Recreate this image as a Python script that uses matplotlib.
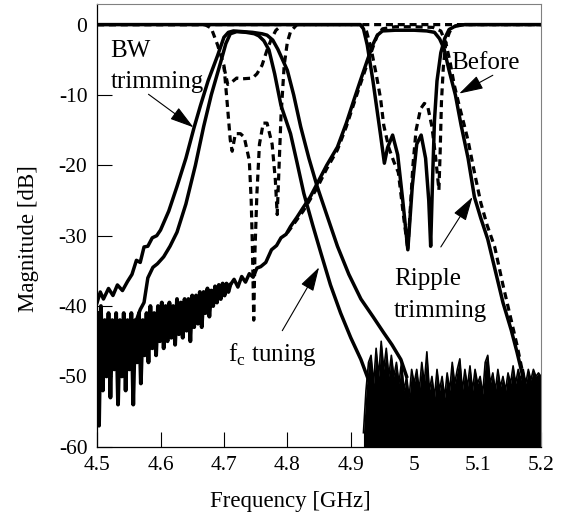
import numpy as np
import matplotlib
matplotlib.use('Agg')
import matplotlib.pyplot as plt

# --- S21 of the low band filter, two states (wide / narrow after BW trimming)
freq_wide = [4.500, 4.505, 4.510, 4.518, 4.525, 4.532, 4.540, 4.548, 4.555, 4.562, 4.568,
             4.574, 4.580, 4.587, 4.594, 4.600, 4.613, 4.626, 4.640, 4.653, 4.663, 4.675,
             4.690, 4.700, 4.707, 4.715, 4.730, 4.745, 4.760, 4.768, 4.777, 4.785, 4.790,
             4.800, 4.810, 4.821, 4.834, 4.847, 4.862, 4.879, 4.897, 4.916, 4.935, 4.952,
             4.965, 4.979, 4.988]
mag_wide = [-39.5, -38.0, -39.0, -37.5, -38.5, -37.0, -37.8, -36.5, -35.5, -33.5, -33.8,
            -31.6, -31.5, -30.3, -30.0, -29.2, -26.5, -23.0, -19.0, -14.6, -11.5, -8.0,
            -4.4, -1.8, -1.1, -0.9, -1.0, -1.1, -1.3, -1.5, -2.2, -3.5, -4.5,
            -6.5, -10.0, -14.5, -19.0, -23.0, -27.0, -31.5, -35.5, -39.0, -41.5, -43.8,
            -45.5, -47.6, -50.0]

freq_narrow = [4.556, 4.562, 4.568, 4.574, 4.580, 4.588, 4.595, 4.605, 4.615, 4.626, 4.640,
               4.655, 4.668, 4.680, 4.695, 4.703, 4.710, 4.720, 4.735, 4.748, 4.755, 4.763,
               4.771, 4.780, 4.790, 4.805, 4.815, 4.826, 4.840, 4.853, 4.868, 4.884, 4.900,
               4.916, 4.930, 4.940]
mag_narrow = [-45.0, -42.0, -40.5, -39.5, -36.0, -34.5, -34.0, -33.0, -31.5, -29.5, -25.5,
              -20.0, -14.5, -10.0, -5.3, -2.7, -1.3, -1.0, -1.1, -1.3, -1.6, -2.3,
              -3.6, -7.0, -11.5, -15.5, -19.5, -24.0, -28.5, -32.5, -37.0, -41.0, -44.5,
              -47.6, -51.0, -55.0]

# --- S21 of the high band filter (after ripple trimming / before)
freq_hi_after = [4.710, 4.716, 4.722, 4.728, 4.734, 4.740, 4.746, 4.752, 4.758, 4.766, 4.775,
                 4.783, 4.790, 4.798, 4.805, 4.815, 4.825, 4.836, 4.847, 4.862, 4.879, 4.893,
                 4.905, 4.915, 4.926, 4.935, 4.942, 4.950, 4.970, 5.000, 5.020, 5.032, 5.040,
                 5.047, 5.055, 5.065, 5.074, 5.085, 5.095, 5.105, 5.116, 5.128, 5.140, 5.153,
                 5.162, 5.170, 5.178, 5.185, 5.190]
mag_hi_after = [-37.0, -36.2, -37.3, -35.8, -36.6, -35.4, -35.9, -34.6, -34.4, -33.8, -32.0,
                -31.4, -30.3, -29.8, -28.7, -27.4, -26.0, -24.5, -22.6, -20.0, -17.4, -14.0,
                -10.7, -8.0, -5.1, -2.8, -1.5, -0.9, -0.8, -0.8, -0.9, -1.1, -2.0,
                -3.4, -6.5, -10.0, -14.3, -19.0, -24.5, -27.5, -30.5, -35.0, -39.5, -43.4,
                -46.5, -49.5, -53.0, -57.0, -61.0]

freq_hi_before = [4.800, 4.825, 4.847, 4.862, 4.879, 4.893, 4.905, 4.915, 4.926, 4.935, 4.942,
                  4.950, 4.970, 5.000, 5.030, 5.042, 5.050, 5.057, 5.063, 5.071, 5.079, 5.085,
                  5.095, 5.105, 5.115, 5.127, 5.140, 5.153, 5.162, 5.170, 5.180, 5.188, 5.193]
mag_hi_before = [-29.6, -26.5, -23.2, -20.5, -17.8, -14.5, -11.2, -8.5, -5.6, -3.2, -1.5,
                 -0.6, -0.3, -0.3, -0.4, -0.9, -2.6, -5.5, -8.5, -11.5, -14.3, -16.5,
                 -21.0, -25.3, -28.5, -31.6, -37.0, -42.0, -45.5, -49.0, -54.0, -58.5, -61.0]

# --- S11 of the high band filter
freq_s11_after = [4.500, 4.915, 4.920, 4.926, 4.935, 4.942, 4.947, 4.953, 4.958, 4.966, 4.974,
                  4.982, 4.990, 4.997, 5.004, 5.011, 5.018, 5.023, 5.026, 5.029, 5.032, 5.036,
                  5.042, 5.048, 5.055, 5.065, 5.080, 5.200]
mag_s11_after = [0.0, 0.0, -0.6, -2.9, -8.0, -12.5, -15.7, -19.7, -17.5, -15.7, -18.5,
                 -25.0, -32.0, -23.0, -17.0, -15.7, -19.0, -25.0, -31.5, -22.0, -13.6, -8.0,
                 -4.0, -2.0, -0.7, -0.2, 0.0, 0.0]

freq_s11_before = [4.500, 4.915, 4.925, 4.932, 4.940, 4.947, 4.952, 4.960, 4.968, 4.975, 4.984,
                   4.990, 4.994, 4.998, 5.003, 5.010, 5.016, 5.021, 5.028, 5.034, 5.039, 5.041,
                   5.043, 5.046, 5.050, 5.056, 5.065, 5.080, 5.200]
mag_s11_before = [0.0, 0.0, -1.0, -3.4, -7.0, -10.5, -14.3, -17.5, -19.5, -21.0, -27.8,
                  -32.0, -26.0, -20.0, -15.0, -12.0, -11.2, -11.5, -14.5, -19.0, -23.5, -18.0,
                  -11.0, -6.0, -2.5, -1.0, -0.2, 0.0, 0.0]

# --- S11 of the low band filter (before), dotted
freq_s11_low = [4.500, 4.670, 4.680, 4.690, 4.700, 4.705, 4.710, 4.713, 4.718, 4.726, 4.732,
                4.740, 4.743, 4.745, 4.747, 4.749, 4.752, 4.756, 4.762, 4.768, 4.776, 4.781,
                4.784, 4.787, 4.790, 4.795, 4.800, 4.805, 4.815, 5.200]
mag_s11_low = [0.0, 0.0, -0.5, -2.9, -5.8, -11.0, -16.4, -18.0, -15.5, -15.5, -16.0,
               -19.3, -25.0, -32.0, -42.0, -32.0, -24.0, -17.0, -14.0, -14.0, -17.0, -22.0,
               -27.0, -20.0, -13.0, -5.8, -2.5, -1.0, 0.0, 0.0]

freq_shelf = [4.700, 4.706, 4.712, 4.720, 4.730, 4.745, 4.752, 4.760, 4.768, 4.775, 4.782, 4.790]
mag_shelf = [-6.0, -8.5, -8.2, -7.6, -7.7, -7.6, -7.0, -5.8, -3.6, -2.0, -0.8, -0.2]

noise_low = [-41, -57, -40, -52, -42, -50, -41, -53, -42, -49, -41, -54, -42, -50, -41, -52,
             -42, -49, -41, -54, -42, -48, -41, -51, -42, -47, -41, -48, -40, -46, -41, -47,
             -40, -45, -39.5, -46, -40, -45, -39.5, -44.5, -40, -45.5, -39, -44, -39.5, -44.5,
             -39, -43.5, -39, -45, -38.5, -43, -38.5, -42.5, -38, -43, -38, -41, -37.5, -41.5,
             -37.8, -40, -37.2, -39.5, -37, -39, -36.8, -38.5, -36.8, -38, -37]
noise_high = [-58, -52, -48, -47, -51, -46, -50, -45, -49, -46, -50, -47, -50, -48, -51, -48,
              -52, -50, -53, -49, -51, -49, -52, -48, -51, -46.5, -52, -50, -53, -49, -52, -50,
              -53, -49.5, -52, -48, -51, -49, -47.5, -52, -49, -51.5, -48.5, -52, -49, -51,
              -50, -52.5, -48, -47, -51, -49.5, -52, -49, -51.5, -50, -52, -49.5, -51, -48.5,
              -51, -49, -50.5, -49, -51, -49, -50.5, -49, -50, -49.5, -50]

xticks = [4.5, 4.6, 4.7, 4.8, 4.9, 5.0, 5.1, 5.2]
xtick_labels = ['4.5', '4.6', '4.7', '4.8', '4.9', '5', '5.1', '5.2']
yticks = [0, -10, -20, -30, -40, -50, -60]


def main():
    plt.rcParams['font.family'] = 'Liberation Serif'
    plt.rcParams['mathtext.fontset'] = 'custom'
    plt.rcParams['mathtext.rm'] = 'Liberation Serif'
    plt.rcParams['axes.unicode_minus'] = False

    fig = plt.figure(figsize=(5.78, 5.25), dpi=100)
    ax = fig.add_axes([0.168, 0.149, 0.768, 0.843])

    solid = dict(color='k', lw=2.5, solid_joinstyle='round')
    dotted = dict(color='k', lw=2.3, linestyle=(0, (2.2, 1.5)))

    # noise floor
    f_low = np.linspace(4.5, 4.71, len(noise_low))
    ax.plot(f_low, noise_low, color='k', lw=2.8)
    f_high = np.linspace(4.92, 5.2, len(noise_high))
    ax.fill_between(f_high, noise_high, -62, color='k', lw=0)
    ax.plot(f_high, noise_high, color='k', lw=1.2)

    ax.plot(freq_s11_low, mag_s11_low, **dotted)
    ax.plot(freq_shelf, mag_shelf, **dotted)
    ax.plot(freq_s11_before, mag_s11_before, **dotted)
    ax.plot(freq_hi_before, mag_hi_before, **dotted)

    ax.plot(freq_wide, mag_wide, **solid)
    ax.plot(freq_narrow, mag_narrow, **solid)
    ax.plot(freq_hi_after, mag_hi_after, **solid)
    ax.plot(freq_s11_after, mag_s11_after, **solid)

    ax.set_xlim(4.5, 5.2)
    ax.set_ylim(-60, 2.9)
    ax.set_xticks(xticks)
    ax.set_xticklabels(xtick_labels)
    ax.set_yticks(yticks)
    ax.set_yticklabels([str(t) for t in yticks])
    ax.tick_params(direction='in', length=11, width=0.8, labelsize=15.5, pad=7,
                   top=False, right=False)
    ax.spines['top'].set_color('0.5')
    ax.spines['right'].set_color('0.5')
    for s in ['left', 'bottom']:
        ax.spines[s].set_linewidth(0.9)

    ax.set_xlabel('Frequency [GHz]', fontsize=16.5)
    ax.set_ylabel('Magnitude [dB]', fontsize=16.5)
    ax.xaxis.set_label_coords(0.435, -0.10)
    ax.yaxis.set_label_coords(-0.13, 0.47)

    # annotations
    arrow = dict(arrowstyle='-|>,head_length=0.75,head_width=0.22', lw=0.8, color='k',
                 mutation_scale=20, shrinkA=0, shrinkB=0)
    fs = 18
    ax.text(4.521, -4.6, 'BW', fontsize=fs, va='baseline')
    ax.text(4.521, -8.95, 'trimming', fontsize=fs, va='baseline')
    ax.annotate('', xy=(4.652, -14.6), xytext=(4.581, -9.9), arrowprops=arrow)

    ax.text(5.058, -6.25, 'Before', fontsize=fs, va='baseline')
    ax.annotate('', xy=(5.071, -9.8), xytext=(5.124, -7.2), arrowprops=arrow)

    ax.text(4.968, -37.0, 'Ripple', fontsize=fs, va='baseline')
    ax.text(4.968, -41.6, 'trimming', fontsize=fs, va='baseline')
    ax.annotate('', xy=(5.092, -24.5), xytext=(5.042, -31.6), arrowprops=arrow)

    ax.text(4.706, -47.8, r'f$_{\mathrm{c}}$ tuning', fontsize=fs, va='baseline')
    ax.annotate('', xy=(4.850, -34.5), xytext=(4.792, -43.5), arrowprops=arrow)

    plt.savefig('out.png', dpi=100)


if __name__ == '__main__':
    main()
